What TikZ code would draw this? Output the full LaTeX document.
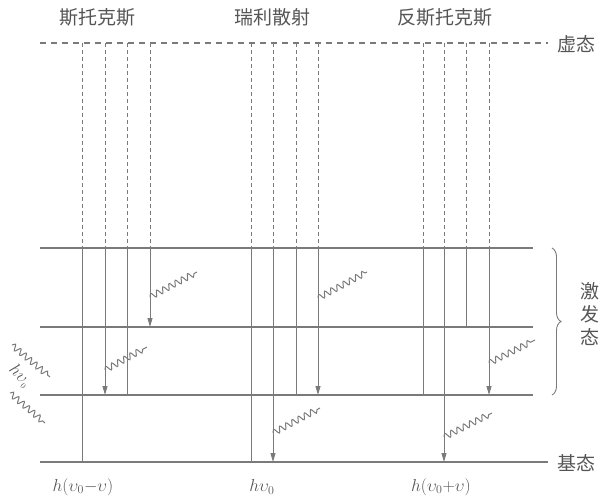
\documentclass[tikz,border=0pt]{standalone}
\usepackage{fontspec}
\newfontfamily\cjk{Noto Sans CJK SC}
\usetikzlibrary{decorations.pathmorphing,decorations.pathreplacing,arrows.meta}
\definecolor{lc}{HTML}{7A7A7A}
\definecolor{tc}{HTML}{555555}
\begin{document}
\begin{tikzpicture}[x=1pt,y=-1pt,
  level/.style={draw=lc,line width=1.4pt},
  virt/.style={draw=lc,line width=1.2pt,dash pattern=on 6pt off 5pt},
  vdash/.style={draw=lc,line width=0.6pt,dash pattern=on 4pt off 3pt},
  vsolid/.style={draw=lc,line width=0.9pt},
  varrow/.style={vsolid,-{Triangle[length=9pt,width=5pt]}},
  wavy/.style={draw=lc,line width=1pt,decorate,decoration={snake,segment length=7pt,amplitude=3pt,post length=2pt}},
  cjklab/.style={text=tc,font=\cjk\fontsize{19}{21}\selectfont,inner sep=0pt},
  mathlab/.style={text=tc,font=\fontsize{17}{19}\selectfont,inner sep=0pt}
]
\useasboundingbox (0,0) rectangle (600,497);
% levels
\coordinate (vl) at (40,43);   \coordinate (vr) at (548,43);
\coordinate (e3l) at (40,248); \coordinate (e3r) at (533,248);
\coordinate (e2l) at (40,327); \coordinate (e2r) at (533,327);
\coordinate (e1l) at (40,395); \coordinate (e1r) at (533,395);
\coordinate (gl) at (40,462);  \coordinate (gr) at (548,462);
\draw[virt] (vl) -- (vr);
\draw[level] (e3l) -- (e3r);
\draw[level] (e2l) -- (e2r);
\draw[level] (e1l) -- (e1r);
\draw[level] (gl) -- (gr);
% vertical transitions
\foreach \x/\yb/\st in {82/462/vsolid,105/395/varrow,127/395/vsolid,150/327/varrow,
                        251/462/vsolid,273/462/varrow,296/395/vsolid,318/395/varrow,
                        423/395/vsolid,444/462/varrow,466/327/vsolid,489/395/varrow}{
  \coordinate (t\x) at (\x,43);
  \coordinate (m\x) at (\x,248);
  \coordinate (b\x) at (\x,\yb);
  \draw[vdash] (t\x) -- (m\x);
  \draw[\st] (m\x) -- (b\x);
}
% scattered photons
\foreach \n/\a/\b/\c/\d in {s1/105/370/147/347, s2/150/297/197/272,
                            r1/273/433/320/408, r2/318/298/367/272,
                            a1/444/437/492/413, a2/489/363/535/340,
                            i1/12/345/50/377, i2/10/393/45/423}{
  \coordinate (\n a) at (\a,\b);
  \coordinate (\n b) at (\c,\d);
  \draw[wavy] (\n a) -- (\n b);
}
\node[mathlab,rotate=-45] (inc) at (20,376) {$h\upsilon_{\scriptscriptstyle 0}$};
% top labels
\node[cjklab] (stokes) at (97,17) {斯托克斯};
\node[cjklab] (rayl) at (272,17) {瑞利散射};
\node[cjklab] (anti) at (445,17) {反斯托克斯};
\node[cjklab,anchor=west] (virtlab) at (557,44) {虚态};
\node[cjklab,anchor=west] (groundlab) at (557,463) {基态};
% brace
\coordinate (bt) at (552,248);
\coordinate (bb) at (552,395);
\draw[draw=lc,line width=0.9pt,decorate,decoration={brace,amplitude=9pt}] (bt) -- (bb);
\node[cjklab,anchor=west,align=center,font=\cjk\fontsize{19}{23}\selectfont] (exc) at (580,314) {激\\发\\态};
% bottom labels
\node[mathlab] (lstokes) at (83,487) {$h(\upsilon_0{-}\upsilon)$};
\node[mathlab] (lrayl) at (262,487) {$h\upsilon_0$};
\node[mathlab] (lanti) at (441,487) {$h(\upsilon_0{+}\upsilon)$};
\end{tikzpicture}
\end{document}
